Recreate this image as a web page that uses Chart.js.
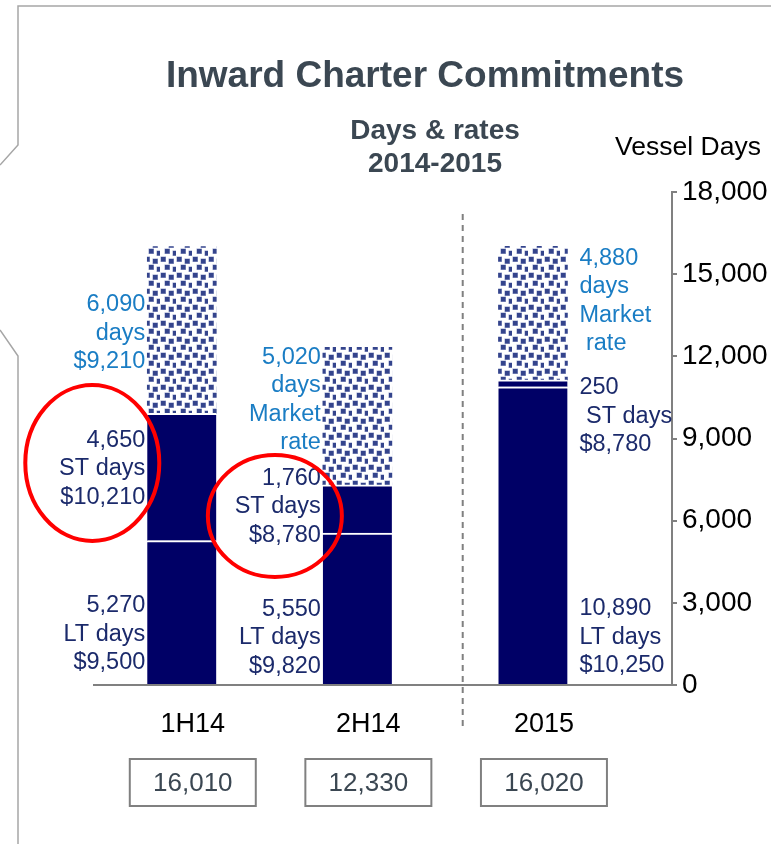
<!DOCTYPE html>
<html><head><meta charset="utf-8">
<script src="https://cdn.jsdelivr.net/npm/chart.js@4.4.0/dist/chart.umd.min.js"></script>
<style>html,body{margin:0;padding:0;background:#fff;} canvas{display:block}</style>
</head><body>
<canvas id="c" width="771" height="844"></canvas>
<script>
// ---- data ----
const categories = ['1H14', '2H14', '2015'];
const ltDays = [5270, 5550, 10890];
const stDays = [4650, 1760, 250];
const marketDays = [6090, 5020, 4880];
const ltRates = ['$9,500', '$9,820', '$10,250'];
const stRates = ['$10,210', '$8,780', '$8,780'];
const marketRateLines = [['$9,210'], ['Market', 'rate'], ['Market', ' rate']];
const stDayWords = ['ST days', 'ST days', ' ST days'];
const totals = [16010, 12330, 16020];
const yTicks = [0, 3000, 6000, 9000, 12000, 15000, 18000];

const FONT = "'Liberation Sans', Arial, sans-serif";
const NAVY = '#000066';
const BLUE_TXT = '#1a7dc4';
const DARK_TXT = '#1b2a6b';
const SLATE = '#3b4752';
const fmt = v => v.toLocaleString('en-US');

function makePattern(ctx) {
  const p = document.createElement('canvas');
  p.width = 16; p.height = 16;
  const g = p.getContext('2d');
  g.fillStyle = '#ffffff'; g.fillRect(0, 0, 16, 16);
  const pts = [[1,1],[9,3],[5,9],[13,11]];
  g.fillStyle = '#9aa3cb';
  pts.forEach(([x,y]) => g.fillRect(x - 0.5, y - 0.5, 5.5, 5.5));
  g.fillStyle = '#34448c';
  pts.forEach(([x,y]) => g.fillRect(x, y, 4.5, 4.5));
  return ctx.createPattern(p, 'repeat');
}

const canvas = document.getElementById('c');
const ctx = canvas.getContext('2d');
const pattern = makePattern(ctx);

const extras = {
  id: 'extras',
  beforeDraw(chart) {
    const c = chart.ctx;
    c.save();
    c.fillStyle = '#fff'; c.fillRect(0, 0, chart.width, chart.height);
    c.strokeStyle = '#a6a6a6'; c.lineWidth = 1.5;
    c.beginPath(); c.moveTo(771, 6); c.lineTo(18, 6); c.lineTo(18, 145); c.lineTo(0, 165); c.stroke();
    c.beginPath(); c.moveTo(0, 330); c.lineTo(18, 356); c.lineTo(18, 844); c.stroke();
    // titles
    c.fillStyle = SLATE; c.textAlign = 'center'; c.textBaseline = 'middle';
    c.font = `bold 37px ${FONT}`;
    c.fillText('Inward Charter Commitments', 425, 77);
    c.font = `bold 28px ${FONT}`;
    c.fillText('Days & rates', 435, 131);
    c.fillText('2014-2015', 435, 164);
    c.fillStyle = '#000';
    c.font = `26.5px ${FONT}`;
    c.fillText('Vessel Days', 688, 148);
    c.restore();
  },
  afterDraw(chart) {
    const c = chart.ctx;
    const xs = chart.scales.x, ys = chart.scales.y;
    const meta = chart.getDatasetMeta(0);
    const LH = 28.5;
    const centers = { market: [12850, 10400, 14020], st: [7890, 6500, 9820], lt: [1860, 1720, 1750] };
    c.save();
    c.textBaseline = 'middle';
    categories.forEach((cat, i) => {
      const bar = meta.data[i];
      const left = bar.x - bar.width / 2, right = bar.x + bar.width / 2;
      const onLeft = i < 2;
      const tx = onLeft ? left - 2 : right + 12;
      const blocks = [
        { lines: [fmt(marketDays[i]), 'days', ...marketRateLines[i]], color: BLUE_TXT, v: centers.market[i] },
        { lines: [fmt(stDays[i]), stDayWords[i], stRates[i]], color: DARK_TXT, v: centers.st[i] },
        { lines: [fmt(ltDays[i]), 'LT days', ltRates[i]], color: DARK_TXT, v: centers.lt[i] }
      ];
      c.font = `23.5px ${FONT}`;
      c.textAlign = onLeft ? 'right' : 'left';
      blocks.forEach(b => {
        const cy = ys.getPixelForValue(b.v);
        c.fillStyle = b.color;
        b.lines.forEach((t, k) => c.fillText(t, tx, cy + (k - (b.lines.length - 1) / 2) * LH));
      });
      // total boxes
      const bx = bar.x + 11, by = ys.getPixelForValue(0) + 74;
      c.strokeStyle = '#808080'; c.lineWidth = 2;
      c.strokeRect(bx - 63, by, 126, 47);
      c.fillStyle = SLATE; c.textAlign = 'center'; c.font = `26px ${FONT}`;
      c.fillText(fmt(totals[i]), bx, by + 25);
    });
    // red ellipses round ST labels of 1H14 and 2H14
    c.strokeStyle = '#ff0000'; c.lineWidth = 4;
    const e = [[0, -55, 463 - 685, 67, 78], [1, -48, 516 - 685, 67, 61]];
    e.forEach(([i, dx, dy, rx, ry]) => {
      const bar = meta.data[i];
      const cx = bar.x - bar.width / 2 + dx;
      const cy = ys.getPixelForValue(0) + dy;
      c.beginPath(); c.ellipse(cx, cy, rx, ry, 0, 0, Math.PI * 2); c.stroke();
    });
    // dashed separator
    const dxp = xs.getPixelForValue(1.6);
    c.strokeStyle = '#808080'; c.lineWidth = 2; c.setLineDash([6, 5]);
    c.beginPath(); c.moveTo(dxp, ys.getPixelForValue(17200)); c.lineTo(dxp, ys.getPixelForValue(0) + 46); c.stroke();
    c.restore();
  }
};

const mk = (arr) => arr.map((v, i) => ({ x: i, y: v }));
new Chart(ctx, {
  type: 'bar',
  data: {
    datasets: [
      { label: 'LT days', data: mk(ltDays), backgroundColor: NAVY, borderColor: '#ffffff',
        borderWidth: { top: 2, bottom: 0, left: 0, right: 0 }, borderSkipped: false, barThickness: 69, stack: 's' },
      { label: 'ST days', data: mk(stDays), backgroundColor: NAVY, borderColor: '#ffffff',
        borderWidth: { top: 2, bottom: 0, left: 0, right: 0 }, borderSkipped: false, barThickness: 69, stack: 's' },
      { label: 'Market rate days', data: mk(marketDays), backgroundColor: pattern,
        borderWidth: 0, barThickness: 69, stack: 's' }
    ]
  },
  options: {
    responsive: false,
    animation: false,
    layout: { padding: { left: 94, top: 192, right: 0, bottom: 0 } },
    plugins: { legend: { display: false }, tooltip: { enabled: false } },
    scales: {
      x: {
        type: 'linear', min: -0.5, max: 2.792, stacked: true, offset: false,
        grid: { display: false, drawTicks: false, offset: false },
        border: { display: true, color: '#808080', width: 2 },
        afterBuildTicks: s => { s.ticks = categories.map((c, i) => ({ value: i })); },
        ticks: { callback: v => categories[v], color: '#000', font: { size: 27, family: FONT },
                 padding: 23, labelOffset: 11, maxRotation: 0, autoSkip: false },
        afterFit: s => { s.height = 159; }
      },
      y: {
        position: 'right', stacked: true, min: 0, max: 18000,
        afterBuildTicks: s => { s.ticks = yTicks.map(v => ({ value: v })); },
        ticks: { callback: v => fmt(v), color: '#000', font: { size: 28, family: FONT }, padding: 5 },
        grid: { drawOnChartArea: false, tickLength: 5, color: '#808080', lineWidth: 2 },
        border: { color: '#808080', width: 2 },
        afterFit: s => { s.width = 99; }
      }
    }
  },
  plugins: [extras]
});
</script>
</body></html>
